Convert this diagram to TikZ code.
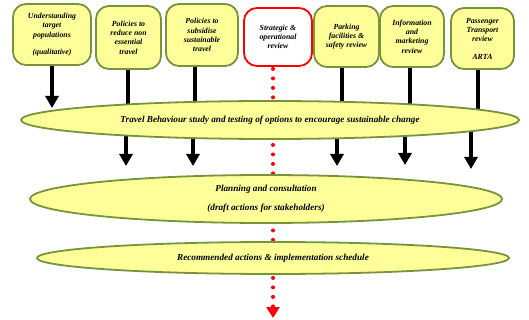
\documentclass[tikz,border=0pt]{standalone}
\usepackage{fontspec}
\setmainfont{Liberation Serif}
\usetikzlibrary{shapes.geometric,arrows.meta,backgrounds}
\definecolor{boxgreen}{HTML}{77933C}
\definecolor{boxfill}{HTML}{FFFF99}
\tikzset{box/.style={draw=boxgreen, fill=boxfill, line width=1.8pt, rounded corners=13pt,
    align=center, inner sep=1pt, font=\fontsize{7.8}{9.3}\selectfont\bfseries\itshape}}
\tikzset{redbox/.style={box, draw=red, fill=white}}
\tikzset{stage/.style={ellipse, draw=boxgreen, fill=boxfill, line width=1.8pt, inner sep=0pt,
    align=center, font=\fontsize{9.2}{9.5}\selectfont\bfseries\itshape}}
\tikzset{stem/.style={line width=4pt}}
\tikzset{arrow/.style={line width=4pt, -{Triangle[width=13pt,length=12pt]}}}
\tikzset{red-dots/.style={red, line width=4pt, line cap=round, dash pattern=on 0pt off 9.5pt,
    -{Triangle[width=13pt,length=11pt]}}}

\begin{document}
\begin{tikzpicture}[x=1pt, y=-1pt]
      \useasboundingbox (0,0) rectangle (529,320);

      % top row
      \node[box, minimum width=78pt, minimum height=61pt] (b1) at (52, 34.5)
            {Understanding\\target\\populations\\[8pt](qualitative)};
      \node[box, minimum width=65pt, minimum height=63pt] (b2) at (128.5, 37.5)
            {Policies to\\reduce non\\essential\\travel};
      \node[box, minimum width=72pt, minimum height=62pt] (b3) at (202, 35)
            {Policies to\\subsidise\\sustainable\\travel};
      \node[redbox, minimum width=68pt, minimum height=58pt] (b4) at (278, 37)
            {Strategic \&\\operational\\review};
      \node[box, minimum width=65pt, minimum height=61pt] (b5) at (346.5, 36.5)
            {Parking\\facilities \&\\safety review};
      \node[box, minimum width=64pt, minimum height=61pt] (b6) at (412, 36.5)
            {Information\\and\\marketing\\review};
      \node[box, minimum width=63pt, minimum height=61pt] (b7) at (482.5, 38.5)
            {Passenger\\Transport\\review\\[8pt]ARTA};

      % stages
      \node[stage, minimum width=498pt, minimum height=38pt] (tb) at (270, 120)
            {Travel Behaviour study and testing of options to encourage sustainable change};
      \node[stage, minimum width=472pt, minimum height=48pt] (plan) at (266, 199)
            {Planning and consultation\\[9.5pt](draft actions for stakeholders)};
      \node[stage, minimum width=472pt, minimum height=32pt] (rec) at (273, 258)
            {Recommended actions \& implementation schedule};

      \coordinate (t1) at (52, 108);
      \coordinate (a2) at (126, 166);
      \coordinate (a3) at (193, 166);
      \coordinate (a5) at (337, 166);
      \coordinate (a6) at (405, 165);
      \coordinate (a7) at (471, 169);
      \coordinate (rend) at (273, 318);

      \draw[arrow] (b1.south) -- (t1);

      \begin{scope}[on background layer]
        \draw[stem] ([xshift=-1pt]b2.south) -- ([xshift=-1pt]b2.south |- tb.center);
        \draw[stem] ([xshift=-7pt]b3.south) -- ([xshift=-7pt]b3.south |- tb.center);
        \draw[stem] ([xshift=-5pt]b5.south) -- ([xshift=-5pt]b5.south |- tb.center);
        \draw[stem] ([xshift=-2pt]b6.south) -- ([xshift=-2pt]b6.south |- tb.center);
        \draw[stem] ([xshift=-5pt]b7.south) -- ([xshift=-5pt]b7.south |- tb.center);

        \draw[arrow] (a2 |- tb.center) -- (a2);
        \draw[arrow] (a3 |- tb.center) -- (a3);
        \draw[arrow] (a5 |- tb.center) -- (a5);
        \draw[arrow] (a6 |- tb.center) -- (a6);
        \draw[arrow] (a7 |- tb.center) -- (a7);

        \draw[red-dots] ([yshift=-2pt]b4.south -| rend) -- (rend);
      \end{scope}
\end{tikzpicture}
\end{document}
